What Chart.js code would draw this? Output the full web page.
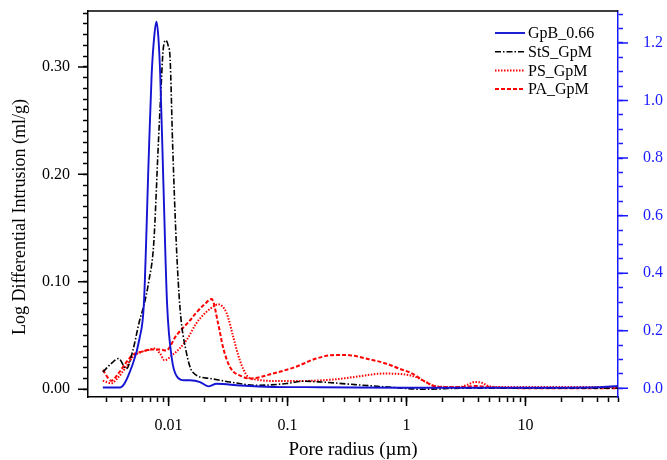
<!DOCTYPE html>
<html>
<head>
<meta charset="utf-8">
<script src="https://cdn.jsdelivr.net/npm/chart.js@4.4.1/dist/chart.umd.min.js"></script>
<style>
  html, body { margin: 0; padding: 0; background: #fff; }
</style>
</head>
<body>
<canvas id="poros" width="667" height="460"></canvas>
<script>
// GpB_0.66 (eje derecho)
const gpbX = [0.0028, 0.0039, 0.0049, 0.0057, 0.0062, 0.0068, 0.0072, 0.0076, 0.0079, 0.0082, 0.0085, 0.0090, 0.0097, 0.0107, 0.0116, 0.0136, 0.0151, 0.0184, 0.0215, 0.0253, 0.040, 0.075, 0.185, 1.0, 10, 40, 60];
const gpbY = [0.003, 0.003, 0.075, 0.174, 0.296, 0.80, 1.09, 1.23, 1.274, 1.22, 1.09, 0.74, 0.296, 0.097, 0.045, 0.028, 0.028, 0.022, 0.007, 0.016, 0.010, 0.005, 0.004, 0.002, 0.002, 0.004, 0.008];

// StS_GpM
const stsX = [0.0028, 0.0033, 0.0038, 0.0044, 0.0050, 0.0057, 0.0062, 0.0068, 0.0075, 0.0082, 0.0086, 0.0090, 0.0095, 0.0099, 0.0103, 0.0108, 0.0116, 0.0125, 0.0140, 0.0159, 0.0223, 0.0327, 0.055, 0.098, 0.136, 0.19, 0.37, 0.71, 1.4, 3, 10, 60];
const stsY = [0.016, 0.024, 0.0286, 0.019, 0.036, 0.064, 0.078, 0.10, 0.136, 0.229, 0.276, 0.316, 0.3246, 0.32, 0.307, 0.229, 0.136, 0.074, 0.036, 0.016, 0.010, 0.0068, 0.0037, 0.0053, 0.0075, 0.0068, 0.0043, 0.002, 0.000, 0.001, 0.001, 0.001];

// PS_GpM
const psX = [0.0028, 0.0033, 0.0037, 0.0044, 0.0050, 0.0060, 0.0070, 0.0076, 0.0085, 0.0092, 0.0108, 0.0140, 0.0170, 0.0184, 0.0230, 0.0261, 0.0307, 0.0349, 0.0397, 0.0465, 0.0547, 0.075, 0.126, 0.239, 0.40, 0.63, 0.92, 1.19, 1.45, 1.75, 2.75, 3.3, 3.75, 4.3, 4.9, 6.0, 10, 60];
const psY = [0.008, 0.0056, 0.010, 0.021, 0.030, 0.035, 0.037, 0.038, 0.033, 0.027, 0.032, 0.045, 0.061, 0.066, 0.076, 0.079, 0.071, 0.049, 0.027, 0.0115, 0.009, 0.0077, 0.0077, 0.009, 0.012, 0.0146, 0.014, 0.0115, 0.0068, 0.0028, 0.002, 0.0045, 0.0068, 0.006, 0.003, 0.002, 0.002, 0.002];

// PA_GpM
const paX = [0.0028, 0.0033, 0.0038, 0.0044, 0.0050, 0.0060, 0.0070, 0.0085, 0.0095, 0.0116, 0.0151, 0.0170, 0.0200, 0.0230, 0.0261, 0.0287, 0.0327, 0.0423, 0.0481, 0.0753, 0.118, 0.174, 0.256, 0.33, 0.456, 0.67, 0.865, 1.12, 1.45, 1.87, 3.0, 3.8, 5.0, 10, 60];
const paY = [0.018, 0.008, 0.015, 0.025, 0.032, 0.035, 0.037, 0.037, 0.036, 0.050, 0.064, 0.071, 0.079, 0.0839, 0.061, 0.039, 0.021, 0.0115, 0.010, 0.0146, 0.021, 0.0286, 0.032, 0.0317, 0.0286, 0.024, 0.0193, 0.0146, 0.0068, 0.002, 0.002, 0.003, 0.002, 0.001, 0.001];

// marcas de los ejes
const xMajor = [0.01, 0.1, 1, 10];
const xLabels = ["0.01", "0.1", "1", "10"];
const leftMajor = [0, 0.1, 0.2, 0.3];
const leftLabels = ["0.00", "0.10", "0.20", "0.30"];
const rightMajor = [0, 0.2, 0.4, 0.6, 0.8, 1.0, 1.2];
const rightLabels = ["0.0", "0.2", "0.4", "0.6", "0.8", "1.0", "1.2"];
const xTitle = 'Pore radius (µm)';
const yTitle = 'Log Differential Intrusion (ml/g)';

const AZUL = '#1a1aff';
const SERIF = '"Liberation Serif", "Times New Roman", serif';
Chart.defaults.font.family = SERIF;
Chart.defaults.color = '#000';

const pares = (xs, ys) => xs.map((x, i) => ({ x: x, y: ys[i] }));
const cerca = (a, b) => Math.abs(a - b) < 1e-9;

// ticks menores del eje log: 1..9 x 10^n
function ticksLog(scale) {
  const vals = [];
  for (let e = -3; e <= 1; e++) {
    for (let s = 1; s <= 9; s++) {
      const v = Number((s * Math.pow(10, e)).toPrecision(2));
      if (v >= scale.min && v <= scale.max * 1.0001) vals.push({ value: v });
    }
  }
  scale.ticks = vals;
}
function ticksLineales(paso) {
  return function (scale) {
    const vals = [];
    for (let k = Math.ceil(scale.min / paso); k * paso <= scale.max + 1e-9; k++) {
      vals.push({ value: Math.round(k * paso * 1000) / 1000 });
    }
    scale.ticks = vals;
  };
}
function ajusteVertical(ancho) {
  return function (s) {
    s.width = ancho;
    s.paddingTop = 0;
    s.paddingBottom = 0;
  };
}

// marco superior, marcas mayores, titulos y leyenda dentro del grafico
const extras = {
  id: 'extras',
  afterDraw(chart) {
    const ctx = chart.ctx;
    const a = chart.chartArea;
    const sx = chart.scales.x, sl = chart.scales.y, sr = chart.scales.y1;
    ctx.save();
    ctx.lineWidth = 1.5;
    ctx.strokeStyle = '#000';
    ctx.beginPath();
    ctx.moveTo(a.left, a.top);
    ctx.lineTo(a.right, a.top);
    xMajor.forEach(v => {
      const p = sx.getPixelForValue(v);
      ctx.moveTo(p, a.bottom);
      ctx.lineTo(p, a.bottom + 9);
    });
    leftMajor.forEach(v => {
      const p = sl.getPixelForValue(v);
      ctx.moveTo(a.left, p);
      ctx.lineTo(a.left - 10, p);
    });
    ctx.stroke();
    ctx.strokeStyle = AZUL;
    ctx.beginPath();
    rightMajor.forEach(v => {
      const p = sr.getPixelForValue(v);
      ctx.moveTo(a.right, p);
      ctx.lineTo(a.right + 10, p);
    });
    ctx.stroke();

    // titulos de ejes
    ctx.fillStyle = '#000';
    ctx.textAlign = 'center';
    ctx.textBaseline = 'middle';
    ctx.font = '19px ' + SERIF;
    ctx.fillText(xTitle, (a.left + a.right) / 2, a.bottom + 53);
    ctx.save();
    ctx.translate(20, (a.top + a.bottom) / 2 + 13);
    ctx.rotate(-Math.PI / 2);
    ctx.font = '18px ' + SERIF;
    ctx.fillText(yTitle, 0, 0);
    ctx.restore();

    // leyenda
    ctx.textAlign = 'left';
    const lx = a.right - 123;
    chart.data.datasets.forEach((ds, i) => {
      const y = a.top + 22 + i * 18.7;
      ctx.beginPath();
      ctx.setLineDash(ds.borderDash || []);
      ctx.lineWidth = ds.borderWidth;
      ctx.strokeStyle = ds.borderColor;
      ctx.moveTo(lx, y);
      ctx.lineTo(lx + 30, y);
      ctx.stroke();
      ctx.setLineDash([]);
      ctx.fillStyle = '#000';
      ctx.font = '16px ' + SERIF;
      ctx.fillText(ds.label, lx + 33, y + 1);
    });
    ctx.restore();
  }
};

new Chart(document.getElementById('poros').getContext('2d'), {
  type: 'line',
  data: {
    datasets: [
      {
        label: 'GpB_0.66',
        data: pares(gpbX, gpbY),
        yAxisID: 'y1',
        borderColor: '#1414d2',
        borderWidth: 1.9,
        pointRadius: 0,
        cubicInterpolationMode: 'monotone'
      },
      {
        label: 'StS_GpM',
        data: pares(stsX, stsY),
        yAxisID: 'y',
        borderColor: '#000',
        borderWidth: 1.6,
        borderDash: [6, 2, 1.5, 2],
        pointRadius: 0,
        cubicInterpolationMode: 'monotone'
      },
      {
        label: 'PS_GpM',
        data: pares(psX, psY),
        yAxisID: 'y',
        borderColor: '#ff0000',
        borderWidth: 2,
        borderDash: [1.5, 1.5],
        pointRadius: 0,
        cubicInterpolationMode: 'monotone'
      },
      {
        label: 'PA_GpM',
        data: pares(paX, paY),
        yAxisID: 'y',
        borderColor: '#ff0000',
        borderWidth: 2,
        borderDash: [4, 2],
        pointRadius: 0,
        cubicInterpolationMode: 'monotone'
      }
    ]
  },
  options: {
    responsive: false,
    animation: false,
    layout: { padding: { top: 11, left: 0, right: 0, bottom: 0 } },
    plugins: {
      legend: { display: false },
      tooltip: { enabled: false }
    },
    scales: {
      x: {
        type: 'logarithmic',
        min: 0.0021,
        max: 60,
        afterBuildTicks: ticksLog,
        afterFit(s) { s.height = 63; s.paddingLeft = 0; s.paddingRight = 0; },
        border: { color: '#000', width: 1.5 },
        grid: { drawOnChartArea: false, drawTicks: true, tickLength: 5, color: '#000', tickColor: '#000', tickWidth: 1.5 },
        ticks: {
          autoSkip: false,
          maxRotation: 0,
          padding: 14,
          color: '#000',
          font: { size: 16 },
          callback: v => {
            const k = xMajor.findIndex(m => cerca(m, v));
            return k >= 0 ? xLabels[k] : '';
          }
        }
      },
      y: {
        position: 'left',
        min: -0.0072,
        max: 0.352,
        afterBuildTicks: ticksLineales(0.01),
        afterFit: ajusteVertical(88),
        border: { color: '#000', width: 1.5 },
        grid: { drawOnChartArea: false, drawTicks: true, tickLength: 5, color: '#000', tickColor: '#000', tickWidth: 1.5 },
        ticks: {
          autoSkip: false,
          padding: 13,
          color: '#000',
          font: { size: 16 },
          callback: v => {
            const k = leftMajor.findIndex(m => cerca(m, v));
            return k >= 0 ? leftLabels[k] : '';
          }
        }
      },
      y1: {
        position: 'right',
        min: -0.030,
        max: 1.311,
        afterBuildTicks: ticksLineales(0.05),
        afterFit: ajusteVertical(49),
        border: { color: AZUL, width: 1.5 },
        grid: { drawOnChartArea: false, drawTicks: true, tickLength: 5, color: AZUL, tickColor: AZUL, tickWidth: 1.5 },
        ticks: {
          autoSkip: false,
          padding: 20,
          color: AZUL,
          font: { size: 16 },
          callback: v => {
            const k = rightMajor.findIndex(m => cerca(m, v));
            return k >= 0 ? rightLabels[k] : '';
          }
        }
      }
    }
  },
  plugins: [extras]
});
</script>
</body>
</html>
